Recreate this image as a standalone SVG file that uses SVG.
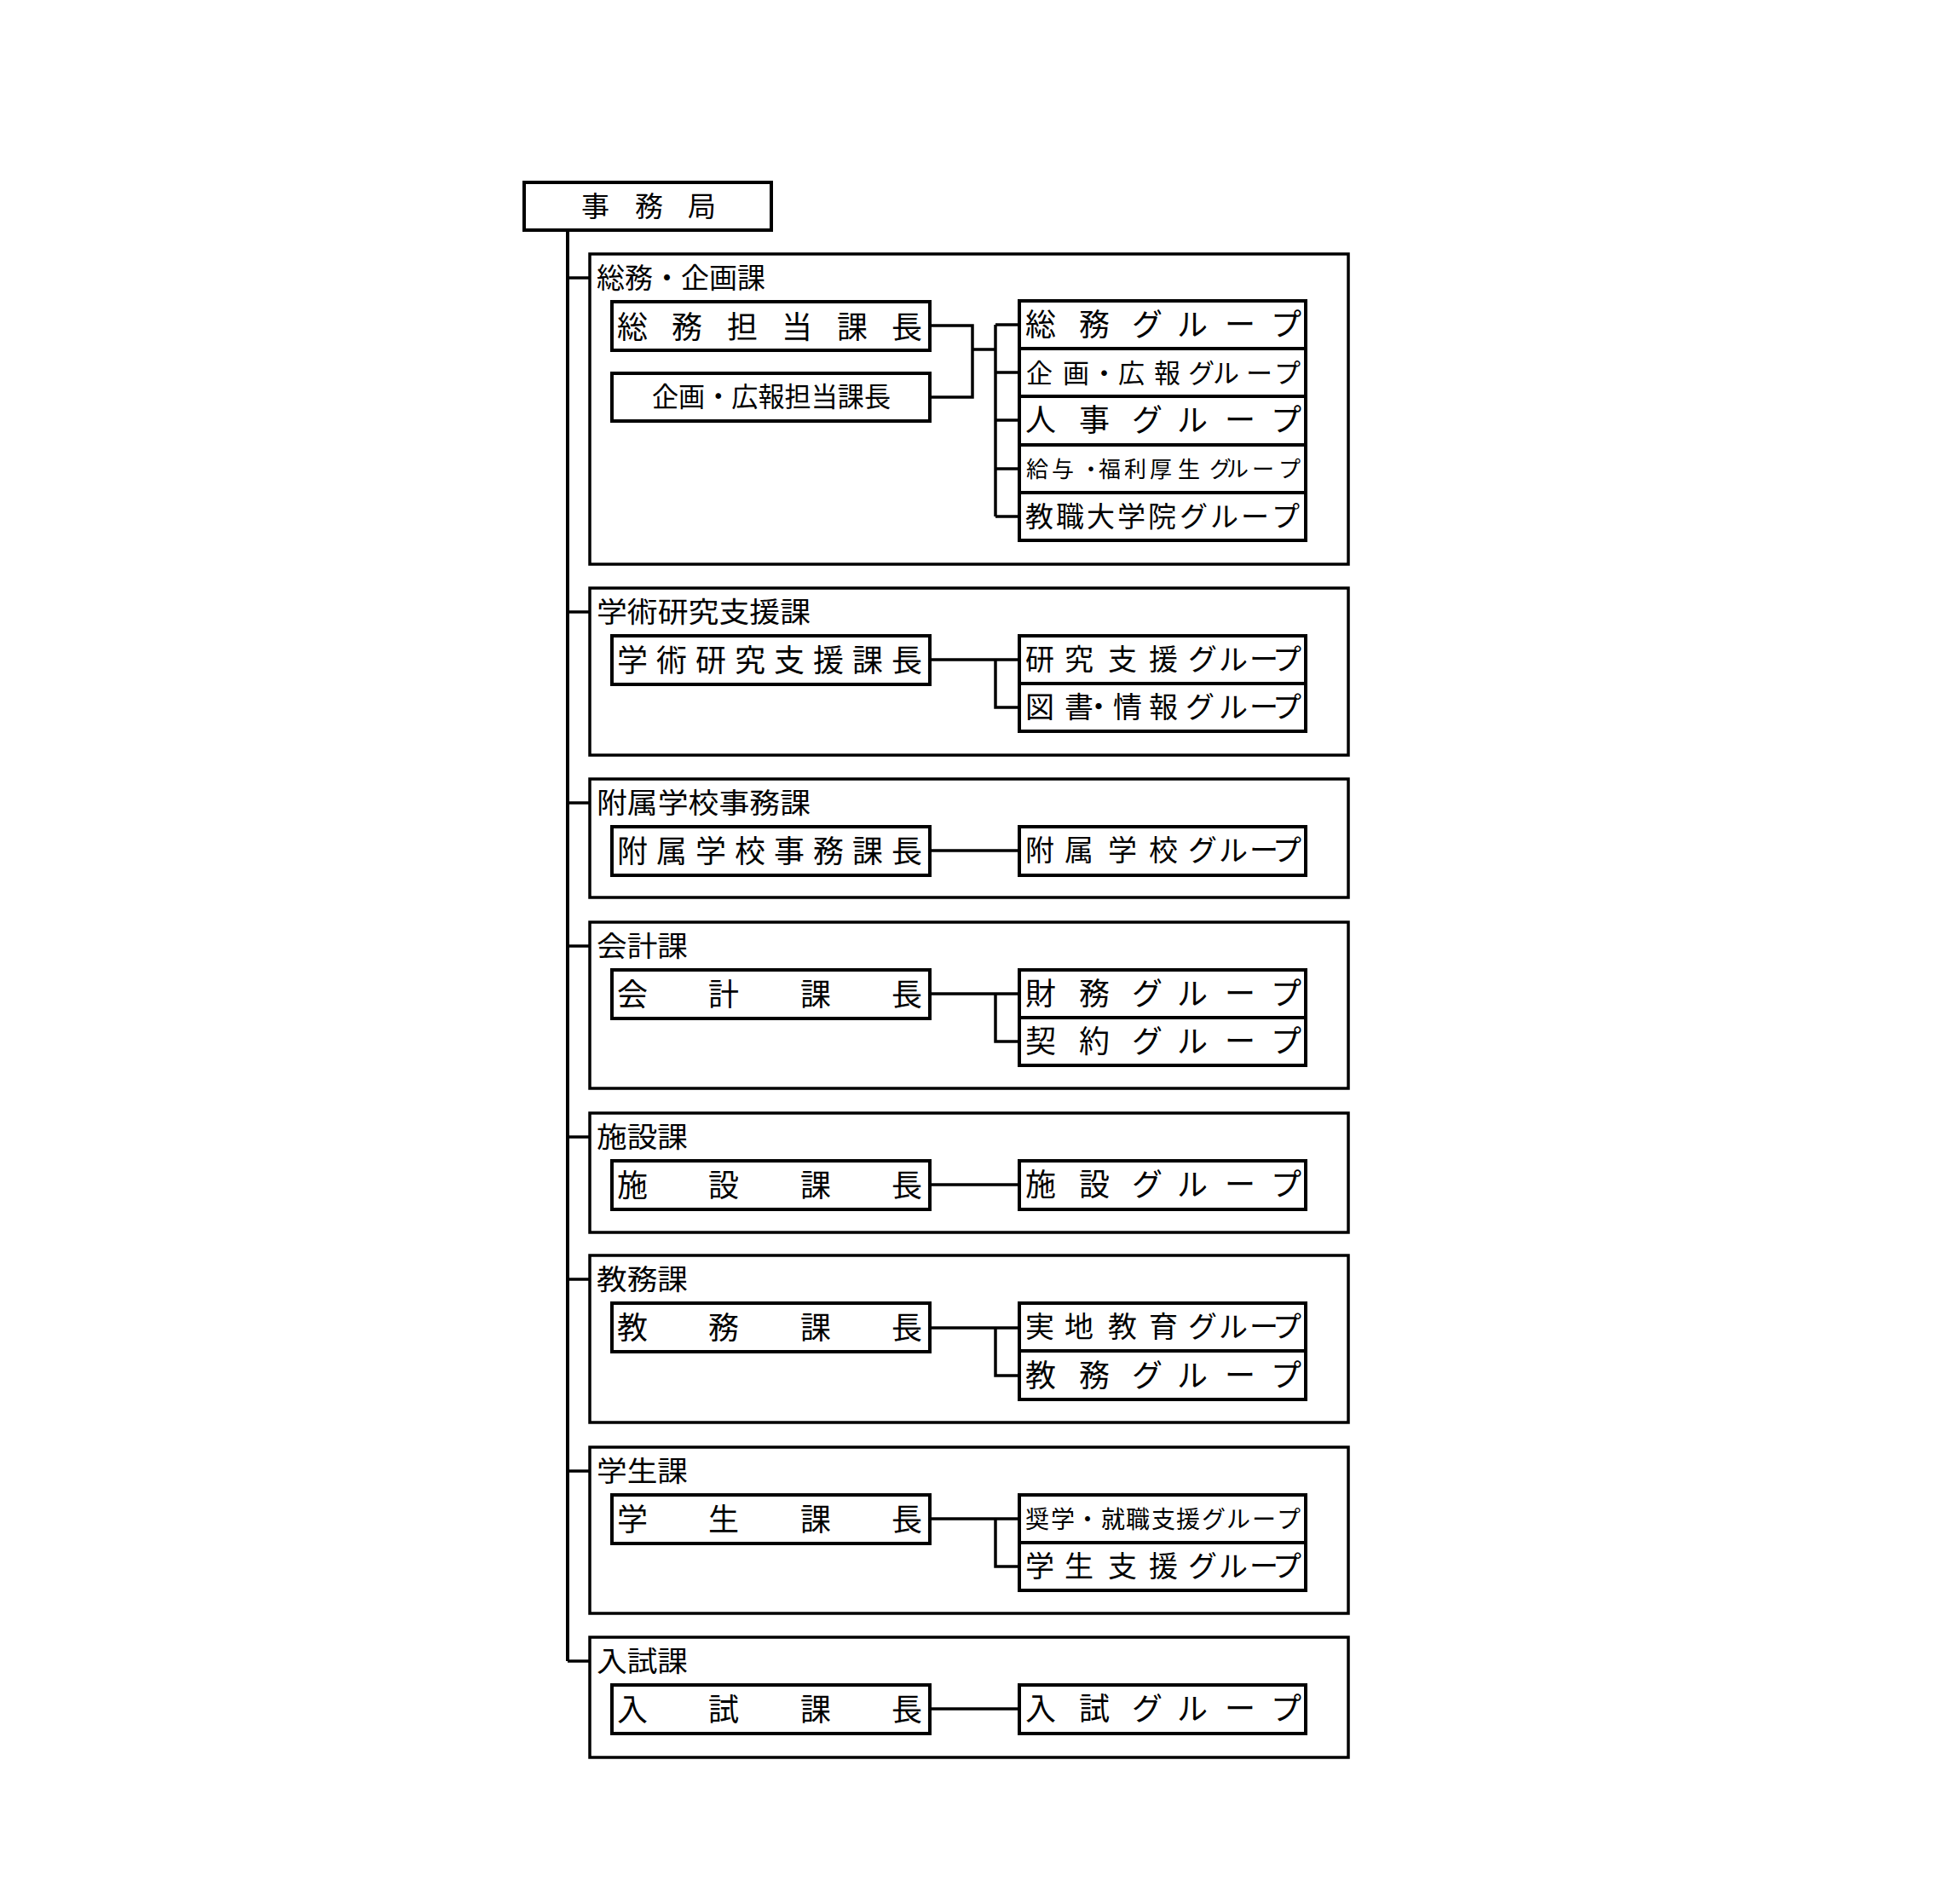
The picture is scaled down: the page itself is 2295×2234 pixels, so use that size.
<svg xmlns="http://www.w3.org/2000/svg" width="2295" height="2234" viewBox="0 0 2295 2234">
<style>
rect{fill:#fff;stroke:#000;stroke-width:4}
.sec{fill:none;stroke-width:3.5}
text{font-family:"Noto Sans CJK JP","Noto Sans CJK SC",sans-serif;fill:#000}
.lbl{font-size:33px}
.chf{font-size:36px}
.grp{font-size:36px}
.grp8{font-size:34px}
#connectors path{fill:none;stroke:#000;stroke-width:3.5}
</style>
<rect x="0" y="0" width="2295" height="2234" style="stroke:none"/>

<g id="connectors">
<path d="M666 270V1949" style="stroke-width:4"/>
<path d="M666 326H692M666 718H692M666 942H692M666 1110H692M666 1334H692M666 1501H692M666 1726H692M666 1949H692"/>
<path d="M1091 382H1141V466H1091M1141 410H1168M1168 381V606M1168 381H1196M1168 437H1196M1168 493H1196M1168 550H1196M1168 606H1196"/>
<path d="M1091 774H1196M1168 774V830H1196"/>
<path d="M1091 998H1196"/>
<path d="M1091 1166H1196M1168 1166V1222H1196"/>
<path d="M1091 1390H1196"/>
<path d="M1091 1558H1196M1168 1558V1614H1196"/>
<path d="M1091 1782H1196M1168 1782V1838H1196"/>
<path d="M1091 2005H1196"/>
</g>

<g id="jimukyoku">
<rect x="615" y="214" width="290" height="56"/>
<text x="682 745 807" y="254" style="font-size:33px">事務局</text>
</g>

<!-- 総務・企画課 -->
<g id="sec-somu">
<rect class="sec" x="692" y="298" width="890" height="364"/>
<text class="lbl" x="700" y="338" textLength="198" lengthAdjust="spacingAndGlyphs">総務・企画課</text>
</g>
<g id="chief-somu">
<rect x="718" y="354" width="373" height="57"/>
<text class="chf" x="724 788 853 917 982 1046" y="397">総務担当課長</text>
</g>
<g id="chief-kikaku">
<rect x="718" y="438" width="373" height="56"/>
<text x="765" y="477" style="font-size:32px" textLength="280" lengthAdjust="spacingAndGlyphs">企画・広報担当課長</text>
</g>
<g id="grp-somu">
<rect x="1196" y="353" width="336" height="56"/>
<text class="grp" x="1203 1266 1328 1381 1437 1491" y="394">総務グループ</text>
</g>
<g id="grp-kikaku">
<rect x="1196" y="409" width="336" height="56"/>
<text x="1204 1247 1280 1312 1354 1394 1423 1462 1495" y="449" style="font-size:31px">企画・広報グループ</text>
</g>
<g id="grp-jinji">
<rect x="1196" y="465" width="336" height="57"/>
<text class="grp" x="1203 1266 1328 1381 1437 1491" y="506">人事グループ</text>
</g>
<g id="grp-kyuyo">
<rect x="1196" y="522" width="336" height="56"/>
<text x="1204 1234 1267 1289 1319 1349 1382 1419 1439 1469 1500" y="560" style="font-size:26px">給与・福利厚生グループ</text>
</g>
<g id="grp-kyoshoku">
<rect x="1196" y="578" width="336" height="56"/>
<text x="1203 1239 1275 1311 1347 1384 1420 1456 1492" y="618" style="font-size:33px">教職大学院グループ</text>
</g>

<!-- 学術研究支援課 -->
<g id="sec-gakujutsu">
<rect class="sec" x="692" y="690" width="890" height="196"/>
<text class="lbl" x="700" y="730" textLength="251" lengthAdjust="spacingAndGlyphs">学術研究支援課</text>
</g>
<g id="chief-gakujutsu">
<rect x="718" y="746" width="373" height="57"/>
<text class="chf" x="724 770 816 862 908 954 1000 1046" y="788">学術研究支援課長</text>
</g>
<g id="grp-kenkyu">
<rect x="1196" y="746" width="336" height="56"/>
<text class="grp8" x="1203 1249 1300 1348 1394 1430 1466 1493" y="786">研究支援グループ</text>
</g>
<g id="grp-tosho">
<rect x="1196" y="802" width="336" height="56"/>
<text class="grp8" x="1203 1249 1272 1306 1348 1391 1430 1466 1493" y="842">図書・情報グループ</text>
</g>

<!-- 附属学校事務課 -->
<g id="sec-fuzoku">
<rect class="sec" x="692" y="914" width="890" height="139"/>
<text class="lbl" x="700" y="954" textLength="251" lengthAdjust="spacingAndGlyphs">附属学校事務課</text>
</g>
<g id="chief-fuzoku">
<rect x="718" y="970" width="373" height="57"/>
<text class="chf" x="724 770 816 862 908 954 1000 1046" y="1012">附属学校事務課長</text>
</g>
<g id="grp-fuzoku">
<rect x="1196" y="970" width="336" height="57"/>
<text class="grp8" x="1203 1249 1300 1348 1394 1430 1466 1493" y="1010">附属学校グループ</text>
</g>

<!-- 会計課 -->
<g id="sec-kaikei">
<rect class="sec" x="692" y="1082" width="890" height="195"/>
<text class="lbl" x="700" y="1122" textLength="107" lengthAdjust="spacingAndGlyphs">会計課</text>
</g>
<g id="chief-kaikei">
<rect x="718" y="1138" width="373" height="57"/>
<text class="chf" x="724 831 939 1046" y="1180">会計課長</text>
</g>
<g id="grp-zaimu">
<rect x="1196" y="1138" width="336" height="56"/>
<text class="grp" x="1203 1266 1328 1381 1437 1491" y="1179">財務グループ</text>
</g>
<g id="grp-keiyaku">
<rect x="1196" y="1194" width="336" height="56"/>
<text class="grp" x="1203 1266 1328 1381 1437 1491" y="1235">契約グループ</text>
</g>

<!-- 施設課 -->
<g id="sec-shisetsu">
<rect class="sec" x="692" y="1306" width="890" height="140"/>
<text class="lbl" x="700" y="1346" textLength="107" lengthAdjust="spacingAndGlyphs">施設課</text>
</g>
<g id="chief-shisetsu">
<rect x="718" y="1362" width="373" height="57"/>
<text class="chf" x="724 831 939 1046" y="1404">施設課長</text>
</g>
<g id="grp-shisetsu">
<rect x="1196" y="1362" width="336" height="57"/>
<text class="grp" x="1203 1266 1328 1381 1437 1491" y="1403">施設グループ</text>
</g>

<!-- 教務課 -->
<g id="sec-kyomu">
<rect class="sec" x="692" y="1473" width="890" height="196"/>
<text class="lbl" x="700" y="1513" textLength="107" lengthAdjust="spacingAndGlyphs">教務課</text>
</g>
<g id="chief-kyomu">
<rect x="718" y="1529" width="373" height="57"/>
<text class="chf" x="724 831 939 1046" y="1571">教務課長</text>
</g>
<g id="grp-jitchi">
<rect x="1196" y="1529" width="336" height="56"/>
<text class="grp8" x="1203 1249 1300 1348 1394 1430 1466 1493" y="1569">実地教育グループ</text>
</g>
<g id="grp-kyomu">
<rect x="1196" y="1585" width="336" height="57"/>
<text class="grp" x="1203 1266 1328 1381 1437 1491" y="1627">教務グループ</text>
</g>

<!-- 学生課 -->
<g id="sec-gakusei">
<rect class="sec" x="692" y="1698" width="890" height="195"/>
<text class="lbl" x="700" y="1738" textLength="107" lengthAdjust="spacingAndGlyphs">学生課</text>
</g>
<g id="chief-gakusei">
<rect x="718" y="1754" width="373" height="57"/>
<text class="chf" x="724 831 939 1046" y="1796">学生課長</text>
</g>
<g id="grp-shogaku">
<rect x="1196" y="1754" width="336" height="56"/>
<text x="1203 1233 1262 1292 1321 1351 1380 1410 1439 1469 1498" y="1793" style="font-size:28px">奨学・就職支援グループ</text>
</g>
<g id="grp-gakuseishien">
<rect x="1196" y="1810" width="336" height="56"/>
<text class="grp8" x="1203 1249 1300 1348 1394 1430 1466 1493" y="1850">学生支援グループ</text>
</g>

<!-- 入試課 -->
<g id="sec-nyushi">
<rect class="sec" x="692" y="1921" width="890" height="141"/>
<text class="lbl" x="700" y="1961" textLength="107" lengthAdjust="spacingAndGlyphs">入試課</text>
</g>
<g id="chief-nyushi">
<rect x="718" y="1977" width="373" height="57"/>
<text class="chf" x="724 831 939 1046" y="2019">入試課長</text>
</g>
<g id="grp-nyushi">
<rect x="1196" y="1977" width="336" height="57"/>
<text class="grp" x="1203 1266 1328 1381 1437 1491" y="2018">入試グループ</text>
</g>
</svg>
